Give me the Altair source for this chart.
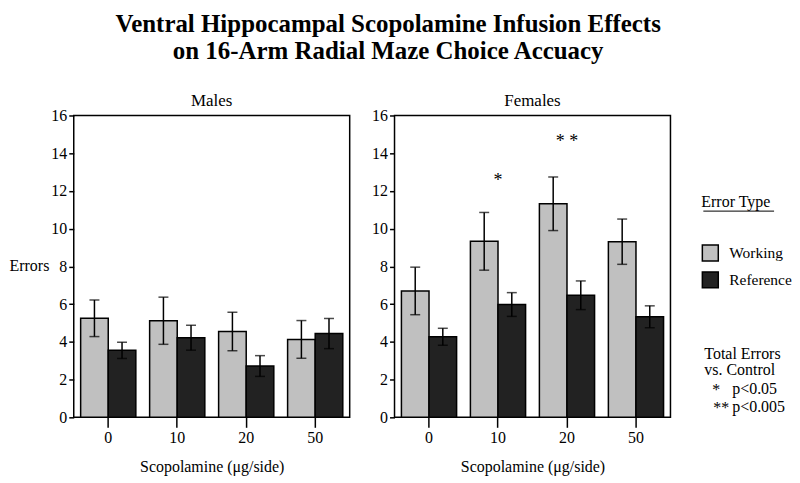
import altair as alt
import pandas as pd

doses = ["0", "10", "20", "50"]
error_types = ["Working", "Reference"]
sexes = ["Males", "Females"]

males_working = [5.25, 5.12, 4.55, 4.13]
males_working_sem = [0.97, 1.25, 1.02, 1.0]
males_reference = [3.55, 4.22, 2.72, 4.44]
males_reference_sem = [0.43, 0.66, 0.55, 0.8]
females_working = [6.7, 9.33, 11.32, 9.31]
females_working_sem = [1.26, 1.53, 1.42, 1.2]
females_reference = [4.27, 5.98, 6.47, 5.33]
females_reference_sem = [0.45, 0.63, 0.76, 0.58]

sig_doses = ["10", "20"]
sig_marks = ["*", "* *"]
sig_heights = [12.5, 14.6]

note_lines = ["Total Errors", "vs. Control"]
note_stars = ["*", "**"]
note_ps = ["p<0.05", "p<0.005"]

FONT = "Liberation Serif"

rows = []
series = {
    ("Males", "Working"): (males_working, males_working_sem),
    ("Males", "Reference"): (males_reference, males_reference_sem),
    ("Females", "Working"): (females_working, females_working_sem),
    ("Females", "Reference"): (females_reference, females_reference_sem),
}
for (sex, et), (means, sems) in series.items():
    for d, m, s in zip(doses, means, sems):
        rows.append({"sex": sex, "dose": d, "type": et, "mean": m,
                     "lo": m - s, "hi": m + s})
df = pd.DataFrame(rows)
sig_df = pd.DataFrame({"dose": sig_doses, "mark": sig_marks, "y": sig_heights})

W, H = 277, 303


def text_at(txt, x, y, align="left"):
    return alt.Chart(pd.DataFrame({"t": [txt]})).mark_text(
        font=FONT, fontSize=16, align=align, baseline="middle",
        color="black").encode(x=alt.value(x), y=alt.value(y), text="t:N")


def panel(sex, show_y_title):
    d = df[df["sex"] == sex]
    xenc = alt.X("dose:N", sort=doses,
                 scale=alt.Scale(paddingInner=0.2, paddingOuter=0.1),
                 axis=alt.Axis(title="Scopolamine (μg/side)", labelAngle=0,
                               tickSize=10, labelPadding=2, titlePadding=13))
    if show_y_title:
        yaxis = alt.Axis(values=list(range(0, 17, 2)), title="Errors",
                         labelOverlap=False,
                         titleAngle=0, titleAlign="right",
                         titleBaseline="middle", titleX=-25, titleY=151)
    else:
        yaxis = alt.Axis(values=list(range(0, 17, 2)), title=None,
                         labelOverlap=False)
    yscale = alt.Scale(domain=[0, 16], nice=False)
    xoff = alt.XOffset("type:N", sort=error_types)
    xb = alt.X("dose:N", sort=doses)
    base = alt.Chart(d)
    bars = base.mark_bar(stroke="black", strokeWidth=1.5).encode(
        x=xenc, y=alt.Y("mean:Q", scale=yscale, axis=yaxis), xOffset=xoff,
        color=alt.Color("type:N", sort=error_types,
                        scale=alt.Scale(domain=error_types,
                                        range=["#c0c0c0", "#222222"]),
                        legend=alt.Legend(title="Error Type")),
    )
    rule = base.mark_rule(color="black", strokeWidth=1.5).encode(
        x=xb, xOffset=xoff,
        y=alt.Y("lo:Q", scale=yscale, axis=yaxis), y2="hi:Q")
    cap_hi = base.mark_tick(color="black", size=10, thickness=1.5).encode(
        x=xb, xOffset=xoff, y=alt.Y("hi:Q", scale=yscale, axis=yaxis))
    cap_lo = base.mark_tick(color="black", size=10, thickness=1.5).encode(
        x=xb, xOffset=xoff, y=alt.Y("lo:Q", scale=yscale, axis=yaxis))
    layers = [bars, rule, cap_hi, cap_lo]
    if sex == "Females":
        stars = alt.Chart(sig_df).mark_text(font=FONT, fontSize=18,
                                            color="black",
                                            baseline="middle").encode(
            x=xb, y=alt.Y("y:Q", scale=yscale, axis=yaxis), text="mark:N")
        notes = [
            text_at(note_lines[0], 311, 239),
            text_at(note_lines[1], 311, 256),
            text_at(note_stars[0], 323, 276, align="center"),
            text_at(note_stars[1], 328, 294, align="center"),
            text_at(note_ps[0], 339, 275),
            text_at(note_ps[1], 339, 293),
        ]
        uline = alt.Chart(pd.DataFrame({"a": [0]})).mark_rule(
            color="black", strokeWidth=1).encode(
            x=alt.value(310), x2=alt.value(381), y=alt.value(96))
        layers += [stars, uline] + notes
    return alt.layer(*layers).properties(
        width=W, height=H,
        title=alt.TitleParams(sex, fontSize=17, fontWeight="normal",
                              font=FONT, offset=0, dy=2))


chart = alt.hconcat(panel("Males", True), panel("Females", False),
                    spacing=20).properties(
    title=alt.TitleParams(
        ["Ventral Hippocampal Scopolamine Infusion Effects",
         "on 16-Arm Radial Maze Choice Accuacy"],
        font=FONT, fontSize=25, fontWeight="bold", anchor="middle",
        lineHeight=27, offset=27, dx=-12),
    padding={"left": 0, "top": 3, "right": 0, "bottom": 0},
).configure_view(stroke="black", strokeWidth=1.5).configure_axis(
    labelFont=FONT, labelFontSize=16, labelColor="black",
    titleFont=FONT, titleFontSize=16, titleFontWeight="normal",
    titleColor="black", tickColor="black", tickWidth=1.5,
    domain=False, grid=False, tickSize=5,
).configure_legend(
    orient="none", legendX=630, legendY=79, padding=0,
    titleFont=FONT, titleFontSize=16, titleFontWeight="normal",
    titleColor="black", titlePadding=34,
    labelFont=FONT, labelFontSize=15.5, labelColor="black", labelOffset=10,
    symbolType="square", symbolSize=256, symbolStrokeColor="black",
    symbolStrokeWidth=1.5, rowPadding=5,
)

chart.save("out.html", embed_options={"renderer": "svg", "actions": False})
